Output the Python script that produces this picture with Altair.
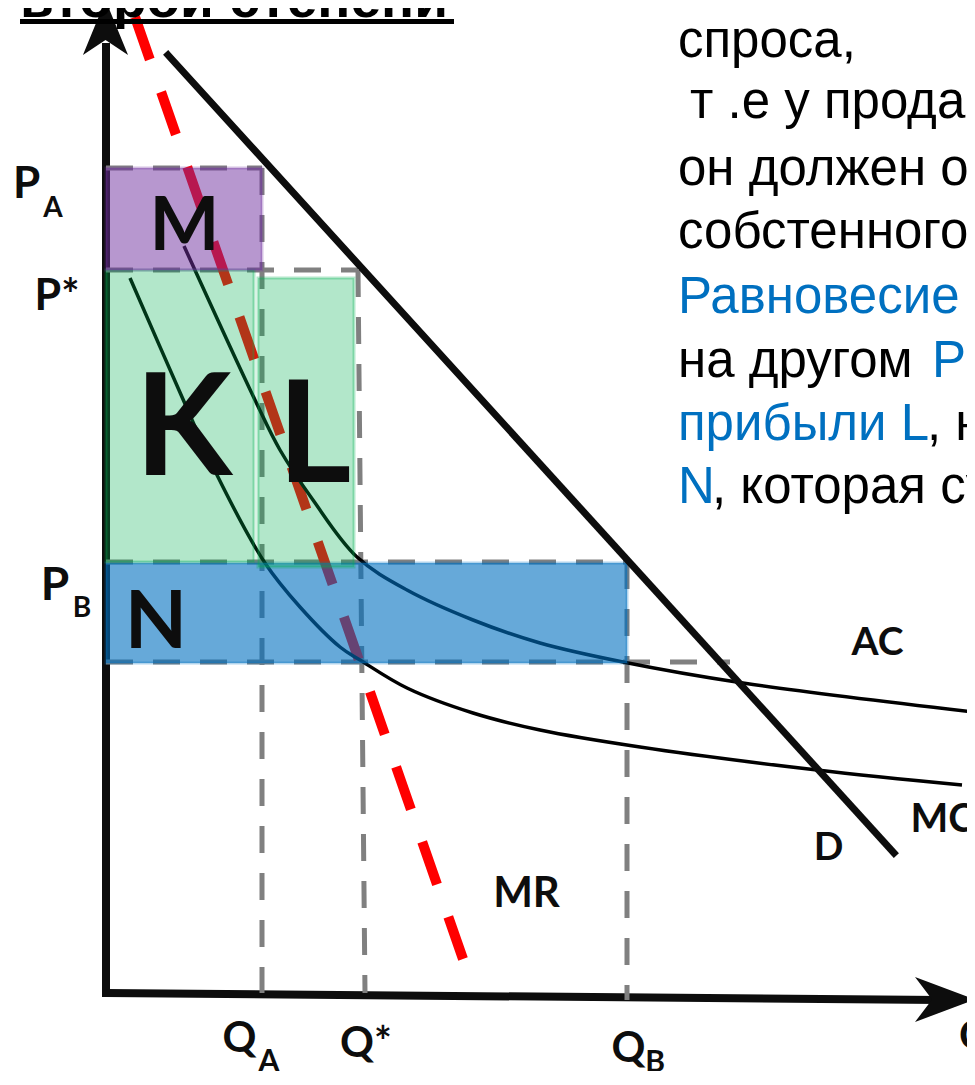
import altair as alt
import pandas as pd

# ---------------- values (chart units: quantity Q to the right, price P upwards) -------------
Q_A, Q_STAR, Q_STAR_BASE, Q_B, Q_PN_END = 15.6, 25.2, 25.9, 52.1, 62.4
P_A, P_STAR, P_B, P_N = 82.5, 72.3, 43.1, 33.1

demand_q = [6.2, 78.8]
demand_p = [93.8, 14.0]

mr_q = [2.9, 35.7]
mr_p = [97.6, 3.4]

mc_q = [2.4, 7.6, 11.1, 15.9, 19.4, 23.4, 25.4, 30.1, 36.7, 43.4, 53.4, 71.1, 85.6]
mc_p = [71.5, 59.6, 51.8, 43.0, 38.6, 34.6, 33.3, 30.5, 28.0, 26.3, 24.6, 22.3, 20.8]

ac_q = [7.8, 14.9, 17.4, 20.7, 25.1, 30.1, 36.7, 43.4, 51.7, 63.7, 88.4]
ac_p = [74.7, 59.3, 54.3, 49.3, 43.6, 40.3, 37.3, 35.0, 33.1, 31.0, 27.9]

rect_names = ["N", "K", "L", "M"]
rect_q1 = [0.0, 0.0, 15.2, 0.0]
rect_q2 = [Q_B, 14.8, 24.8, Q_A]
rect_p1 = [33.0, P_B, 42.6, P_STAR]
rect_p2 = [43.0, P_STAR, 71.5, P_A]

guide_q1 = [0.0, 0.0, 0.0, 0.0, Q_A, Q_STAR, Q_B]
guide_p1 = [P_A, P_STAR, P_B, P_N, P_A, P_STAR, P_B]
guide_q2 = [Q_A, Q_STAR, Q_B, Q_PN_END, Q_A, Q_STAR_BASE, Q_B]
guide_p2 = [P_A, P_STAR, P_B, P_N, 0.0, 0.0, -0.7]

axis_q1 = [0.0, 0.0]
axis_p1 = [-0.4, 0.0]
axis_q2 = [0.0, 83.4]
axis_p2 = [95.0, -0.7]

label_text = ["P", "A", "P*", "P", "B", "M", "K", "L", "N", "AC", "MC", "D", "MR",
              "Q", "A", "Q*", "Q", "B", "Q"]
label_q = [-7.95, -5.3, -4.9, -5.1, -2.4, 7.85, 7.75, 20.85, 5.0, 77.15, 83.65, 72.25, 42.05,
           13.35, 16.3, 26.0, 52.25, 54.9, 87.0]
label_p = [79.5, 77.6, 68.3, 39.3, 37.6, 74.3, 51.8, 51.1, 34.5, 33.8, 16.1, 13.3, 8.6,
           -5.9, -7.8, -6.4, -6.9, -7.9, -5.7]
label_size = [44, 28, 43, 46, 28, 74, 142, 142, 81, 39, 40, 39, 42,
              42, 30, 42, 42, 30, 42]

title_text = "второй степени"
title_q, title_p = -8.6, 97.6
underline_q = [-8.6, 34.8]
underline_p = 97.15

BLACK, BLUE = "#000000", "#0070c0"
note_text = ["спроса,", "т .е у продав", "он должен о", "собстенного", "Равновесие",
             "на другом ", "P", "прибыли L", ", н", "N", ", которая су"]
note_q = [57.2, 58.4, 57.2, 57.2, 57.2, 57.2, 82.6, 57.2, 82.1, 57.2, 60.6]
note_p = [93.6, 87.5, 80.8, 74.5, 68.0, 61.6, 61.6, 55.3, 55.3, 49.0, 49.0]
note_color = [BLACK, BLACK, BLACK, BLACK, BLUE, BLACK, BLUE, BLUE, BLACK, BLUE, BLACK]
note_sub_text = ["B"]
note_sub_q = [86.2]
note_sub_p = [59.6]

# ---------------- styles ----------------
rect_style = {
    "N": ("#0070c0", 0.6),
    "K": ("#00b050", 0.3),
    "L": ("#00b050", 0.3),
    "M": ("#7030a0", 0.5),
}

# the whole page must fit the 975x1085 window (8px body margin on each side)
W, H = 959, 1063
XS = alt.Scale(domain=[-9.8, 86.1], nice=False, zero=False)
YS = alt.Scale(domain=[-7.8, 98.5], nice=False, zero=False)


def X(f, t="Q"):
    return alt.X(f"{f}:{t}", scale=XS, axis=None)


def Y(f, t="Q"):
    return alt.Y(f"{f}:{t}", scale=YS, axis=None)


# ---------------- tables ----------------
axes_df = pd.DataFrame({"q": axis_q1, "p": axis_p1, "q2": axis_q2, "p2": axis_p2})
guides_df = pd.DataFrame({"q": guide_q1, "p": guide_p1, "q2": guide_q2, "p2": guide_p2})
mr_df = pd.DataFrame({"q": mr_q, "p": mr_p})
d_df = pd.DataFrame({"q": demand_q, "p": demand_p})
mc_df = pd.DataFrame({"q": mc_q, "p": mc_p, "i": range(len(mc_q))})
ac_df = pd.DataFrame({"q": ac_q, "p": ac_p, "i": range(len(ac_q))})
rect_df = pd.DataFrame({
    "name": rect_names, "q": rect_q1, "q2": rect_q2, "p": rect_p1, "p2": rect_p2,
    "fill": [rect_style[n][0] for n in rect_names],
    "alpha": [rect_style[n][1] for n in rect_names],
})
labels_df = pd.DataFrame({"t": label_text, "q": label_q, "p": label_p, "s": label_size})
notes_df = pd.DataFrame({"t": note_text, "q": note_q, "p": note_p, "c": note_color})
notes_sub_df = pd.DataFrame({"t": note_sub_text, "q": note_sub_q, "p": note_sub_p})
arrows_df = pd.DataFrame({"q": [-0.05], "p": [96.55]})
arrows_h_df = pd.DataFrame({"q": [83.9], "p": [-0.65]})
title_df = pd.DataFrame({"t": [title_text], "q": [title_q], "p": [title_p]})
underline_df = pd.DataFrame({"q": [underline_q[0]], "q2": [underline_q[1]], "p": [underline_p]})

# ---------------- layers ----------------
axes = alt.Chart(axes_df).mark_rule(color="#0d0d0d", strokeWidth=8).encode(
    x=X("q"), y=Y("p"), x2="q2", y2="p2")

arrow_up = alt.Chart(arrows_df).mark_point(
    shape="M0,-1L0.82,1L0,0.45L-0.82,1Z", filled=True, size=3025, color="#0d0d0d", opacity=1
).encode(x=X("q"), y=Y("p"))

arrow_right = alt.Chart(arrows_h_df).mark_point(
    shape="M1,0L-1,-0.75L-0.43,0L-1,0.75Z", filled=True, size=3600, color="#0d0d0d", opacity=1
).encode(x=X("q"), y=Y("p"))

guides = alt.Chart(guides_df).mark_rule(color="#808080", strokeWidth=5, strokeDash=[27, 20]).encode(
    x=X("q"), y=Y("p"), x2="q2", y2="p2")

mr = alt.Chart(mr_df).mark_line(color="#ff0000", strokeWidth=10, strokeDash=[45, 34.4]).encode(
    x=X("q"), y=Y("p"))

mc = alt.Chart(mc_df).mark_line(color="#000000", strokeWidth=3.5, interpolate="catmull-rom").encode(
    x=X("q"), y=Y("p"), order="i:O")

ac = alt.Chart(ac_df).mark_line(color="#000000", strokeWidth=3.5, interpolate="catmull-rom").encode(
    x=X("q"), y=Y("p"), order="i:O")

rects = alt.Chart(rect_df).mark_rect(strokeWidth=3, strokeOpacity=0.3).encode(
    x=X("q"), x2="q2", y=Y("p"), y2="p2",
    fill=alt.Fill("fill:N", scale=None),
    stroke=alt.Stroke("fill:N", scale=None),
    fillOpacity=alt.FillOpacity("alpha:Q", scale=None))

demand = alt.Chart(d_df).mark_line(color="#0d0d0d", strokeWidth=7, strokeCap="square").encode(
    x=X("q"), y=Y("p"))

labels = alt.Chart(labels_df).mark_text(
    font="Lato", fontWeight="bold", align="center", baseline="alphabetic", color="#0d0d0d"
).encode(x=X("q"), y=Y("p"), text="t:N", size=alt.Size("s:Q", scale=None))

title = alt.Chart(title_df).mark_text(
    font="Liberation Sans", fontWeight="bold", fontSize=55, align="left", baseline="alphabetic",
    color="#000000").encode(x=X("q"), y=Y("p"), text="t:N")

underline = alt.Chart(underline_df).mark_rule(color="#000000", strokeWidth=5).encode(
    x=X("q"), x2="q2", y=Y("p"))

notes = alt.Chart(notes_df).mark_text(
    font="Liberation Sans", fontSize=51, align="left", baseline="alphabetic"
).encode(x=X("q"), y=Y("p"), text="t:N", color=alt.Color("c:N", scale=None))

notes_sub = alt.Chart(notes_sub_df).mark_text(
    font="Liberation Sans", fontSize=30, align="left", baseline="alphabetic", color=BLUE
).encode(x=X("q"), y=Y("p"), text="t:N")

chart = alt.layer(
    axes, arrow_up, arrow_right, guides, mr, mc, ac, rects, demand,
    labels, title, underline, notes, notes_sub
).properties(width=W, height=H, padding=0, autosize="none", background="white"
).configure_view(stroke=None)

chart.save("out.html", embed_options={"renderer": "svg", "actions": False})
